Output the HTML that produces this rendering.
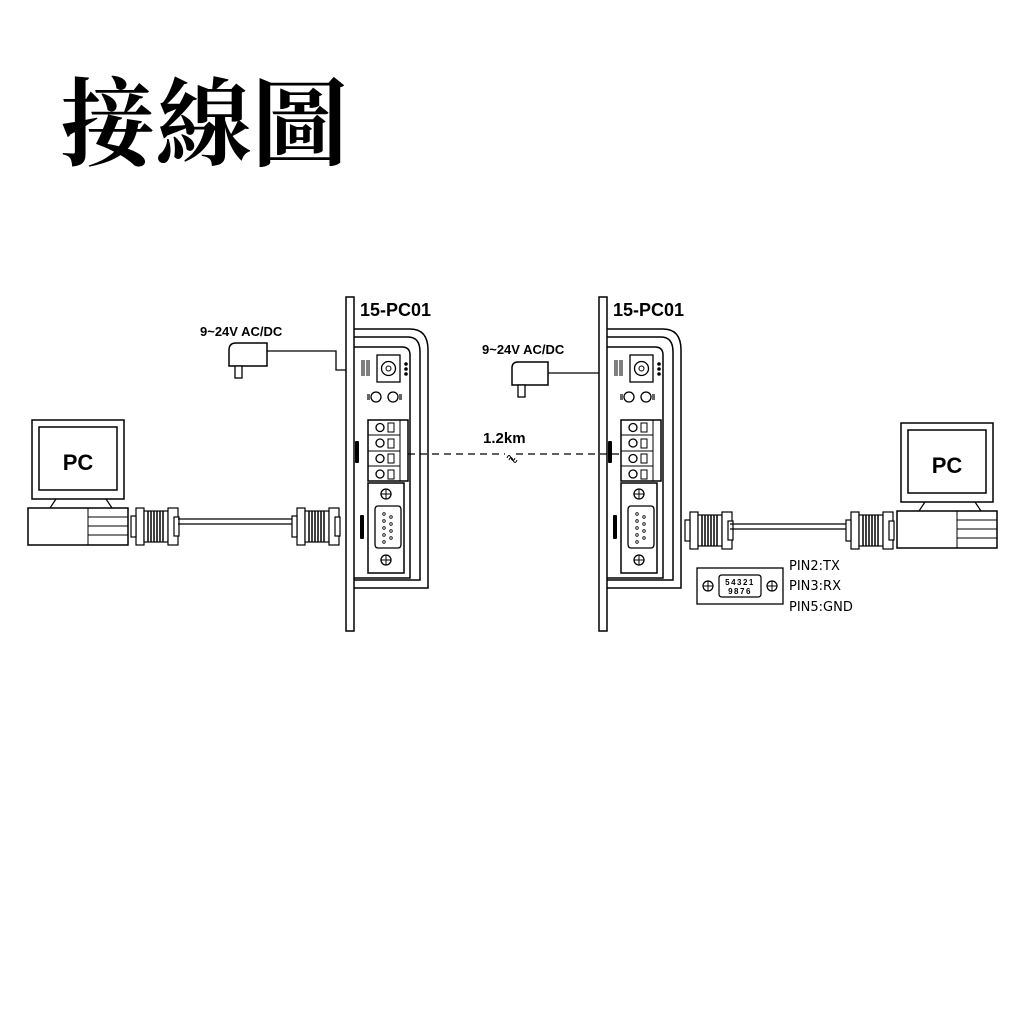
<!DOCTYPE html>
<html><head><meta charset="utf-8"><style>
html,body{margin:0;padding:0;background:#fff;width:1024px;height:1024px;overflow:hidden}
svg{display:block}
.b{font-family:"Liberation Sans",Arial,sans-serif;font-weight:bold}
.n{font-family:"DejaVu Sans","Liberation Sans",sans-serif}
</style></head><body>
<svg width="1024" height="1024" viewBox="0 0 1024 1024" xmlns="http://www.w3.org/2000/svg">
<defs>
<g id="dev">
 <rect x="346" y="297" width="8" height="334" fill="#fff" stroke="#000" stroke-width="1.5"/>
 <path d="M354 329 H410 Q428 329 428 350 V588 H354" fill="none" stroke="#000" stroke-width="1.5"/>
 <path d="M354 337 H408 Q420 337 420 352 V580 H354" fill="none" stroke="#000" stroke-width="1.5"/>
 <path d="M354 347 H402 Q410 347 410 355 V578 H354" fill="none" stroke="#000" stroke-width="1.5"/>
 <text x="360" y="316" class="b" font-size="18">15-PC01</text>
 <rect x="377" y="355" width="23" height="27" fill="none" stroke="#000" stroke-width="1.3"/>
 <circle cx="388.5" cy="368.5" r="7" fill="none" stroke="#000" stroke-width="1.3"/>
 <circle cx="388.5" cy="368.5" r="2.5" fill="none" stroke="#000"/>
 <circle cx="406" cy="364" r="1.8" fill="#000"/><circle cx="406" cy="369" r="1.8" fill="#000"/><circle cx="406" cy="374" r="1.8" fill="#000"/>
 <rect x="361" y="360" width="4" height="16" fill="#000" opacity=".5"/><rect x="366" y="360" width="4" height="16" fill="#000" opacity=".5"/>
 <circle cx="376" cy="397" r="5" fill="none" stroke="#000" stroke-width="1.3"/>
 <circle cx="393" cy="397" r="5" fill="none" stroke="#000" stroke-width="1.3"/>
 <rect x="367" y="394" width="3" height="6" fill="#000" opacity=".6"/><rect x="399" y="394" width="3" height="6" fill="#000" opacity=".6"/>
 <rect x="368" y="420" width="40" height="61" fill="none" stroke="#000" stroke-width="1.5"/>
 <line x1="368" y1="435" x2="400" y2="435" stroke="#000"/><line x1="368" y1="451" x2="400" y2="451" stroke="#000"/><line x1="368" y1="466" x2="400" y2="466" stroke="#000"/>
 <line x1="400" y1="420" x2="400" y2="481" stroke="#000"/>
 <circle cx="380" cy="427.5" r="4" fill="none" stroke="#000" stroke-width="1.3"/><circle cx="380" cy="443" r="4" fill="none" stroke="#000" stroke-width="1.3"/>
 <circle cx="380" cy="458.5" r="4" fill="none" stroke="#000" stroke-width="1.3"/><circle cx="380" cy="474" r="4" fill="none" stroke="#000" stroke-width="1.3"/>
 <rect x="388" y="423" width="6" height="9" fill="none" stroke="#000"/><rect x="388" y="439" width="6" height="9" fill="none" stroke="#000"/>
 <rect x="388" y="454" width="6" height="9" fill="none" stroke="#000"/><rect x="388" y="470" width="6" height="9" fill="none" stroke="#000"/>
 <rect x="355" y="441" width="4" height="22" rx="1" fill="#000"/>
 <rect x="368" y="483" width="36" height="90" fill="none" stroke="#000" stroke-width="1.5"/>
 <circle cx="386" cy="494" r="5" fill="none" stroke="#000" stroke-width="1.3"/><path d="M381 494h10M386 489v10" stroke="#000"/>
 <circle cx="386" cy="560" r="5" fill="none" stroke="#000" stroke-width="1.3"/><path d="M381 560h10M386 555v10" stroke="#000"/>
 <path d="M378 506 H398 Q401 506 401 510 V544 Q401 548 398 548 H378 Q375 548 375 544 V510 Q375 506 378 506Z" fill="none" stroke="#000" stroke-width="1.3"/>
 <g fill="none" stroke="#000" stroke-width=".8"><circle cx="384" cy="514" r="1.3"/><circle cx="384" cy="521" r="1.3"/><circle cx="384" cy="528" r="1.3"/><circle cx="384" cy="535" r="1.3"/><circle cx="384" cy="542" r="1.3"/>
 <circle cx="391" cy="517" r="1.3"/><circle cx="391" cy="524" r="1.3"/><circle cx="391" cy="531" r="1.3"/><circle cx="391" cy="538" r="1.3"/></g>
 <rect x="360" y="515" width="4" height="24" rx="1" fill="#000"/>
</g>
<g id="conn">
 <rect x="0" y="0" width="8" height="37" fill="#fff" stroke="#000" stroke-width="1.2"/>
 <rect x="-5" y="8" width="5" height="21" fill="#fff" stroke="#000" stroke-width="1.2"/>
 <rect x="8" y="3" width="24" height="31" fill="#fff" stroke="#000" stroke-width="1.2"/>
 <path d="M12 3v31M15 3v31M18 3v31M21 3v31M24 3v31M27 3v31" stroke="#000" stroke-width="1.5"/>
 <rect x="32" y="0" width="10" height="37" fill="#fff" stroke="#000" stroke-width="1.2"/>
 <rect x="38" y="9" width="5" height="19" fill="#fff" stroke="#000" stroke-width="1.2"/>
</g>
<g id="pc">
 <rect x="0" y="0" width="92" height="79" fill="none" stroke="#000" stroke-width="1.5"/>
 <rect x="7" y="7" width="78" height="63" fill="none" stroke="#000" stroke-width="1.5"/>
 <text x="46" y="50" text-anchor="middle" class="b" font-size="22">PC</text>
 <path d="M24 79 L18 88 M74 79 L80 88" stroke="#000" stroke-width="1.2"/>
 <rect x="-4" y="88" width="100" height="37" fill="none" stroke="#000" stroke-width="1.5"/>
 <line x1="56" y1="88" x2="56" y2="125" stroke="#000"/>
 <line x1="56" y1="97" x2="96" y2="97" stroke="#000"/><line x1="56" y1="106" x2="96" y2="106" stroke="#000"/><line x1="56" y1="115" x2="96" y2="115" stroke="#000"/>
</g>
</defs>
<text x="60" y="158" font-family="'Noto Serif CJK TC','Noto Serif CJK SC',serif" font-weight="700" font-size="96">接線圖</text>

<use href="#dev"/>
<use href="#dev" transform="translate(253,0)"/>

<text x="200" y="336" class="b" font-size="13">9~24V AC/DC</text>
<path d="M229 366 V350 Q229 343 236 343 H267 V366 Z" fill="#fff" stroke="#000" stroke-width="1.5"/>
<rect x="235" y="366" width="7" height="12" fill="#fff" stroke="#000" stroke-width="1.3"/>
<path d="M267 351 H336 V370 H346" fill="none" stroke="#000" stroke-width="1.3"/>

<text x="482" y="354" class="b" font-size="13">9~24V AC/DC</text>
<path d="M512 385 V368 Q512 362 518 362 H548 V385 Z" fill="#fff" stroke="#000" stroke-width="1.5"/>
<rect x="518" y="385" width="7" height="12" fill="#fff" stroke="#000" stroke-width="1.3"/>
<path d="M548 373 H599" fill="none" stroke="#000" stroke-width="1.3"/>

<path d="M408 454 H505 M516 454 H620" stroke="#000" stroke-width="1.3" stroke-dasharray="7,5"/>
<path d="M507 458 q2 -5 4 0 q2 5 4 0 M509 460 q2 -5 4 0 q2 5 4 0" fill="none" stroke="#000" stroke-width="1"/>
<text x="483" y="443" class="b" font-size="15">1.2km</text>

<use href="#pc" transform="translate(32,420)"/>
<use href="#conn" transform="translate(136,508)"/>
<path d="M178 519 H295 M178 524 H295" stroke="#000" stroke-width="1.2"/>
<use href="#conn" transform="translate(297,508)"/>

<use href="#pc" transform="translate(901,423)"/>
<use href="#conn" transform="translate(690,512)"/>
<path d="M730 524 H849 M730 529 H849" stroke="#000" stroke-width="1.2"/>
<use href="#conn" transform="translate(851,512)"/>

<rect x="697" y="568" width="86" height="36" fill="#fff" stroke="#000" stroke-width="1.3"/>
<circle cx="708" cy="586" r="5" fill="none" stroke="#000" stroke-width="1.2"/><path d="M703 586h10M708 581v10" stroke="#000"/>
<circle cx="772" cy="586" r="5" fill="none" stroke="#000" stroke-width="1.2"/><path d="M767 586h10M772 581v10" stroke="#000"/>
<path d="M722 575 H758 Q761 575 761 578 V594 Q761 597 758 597 H722 Q719 597 719 594 V578 Q719 575 722 575Z" fill="none" stroke="#000" stroke-width="1.2"/>
<text x="740" y="585" text-anchor="middle" class="b" font-size="8" letter-spacing="1.5">54321</text>
<text x="740" y="594" text-anchor="middle" class="b" font-size="8" letter-spacing="1.5">9876</text>
<text x="789" y="570" class="n" font-size="13">PIN2:TX</text>
<text x="789" y="590" class="n" font-size="13">PIN3:RX</text>
<text x="789" y="611" class="n" font-size="13">PIN5:GND</text>
</svg>
</body></html>
